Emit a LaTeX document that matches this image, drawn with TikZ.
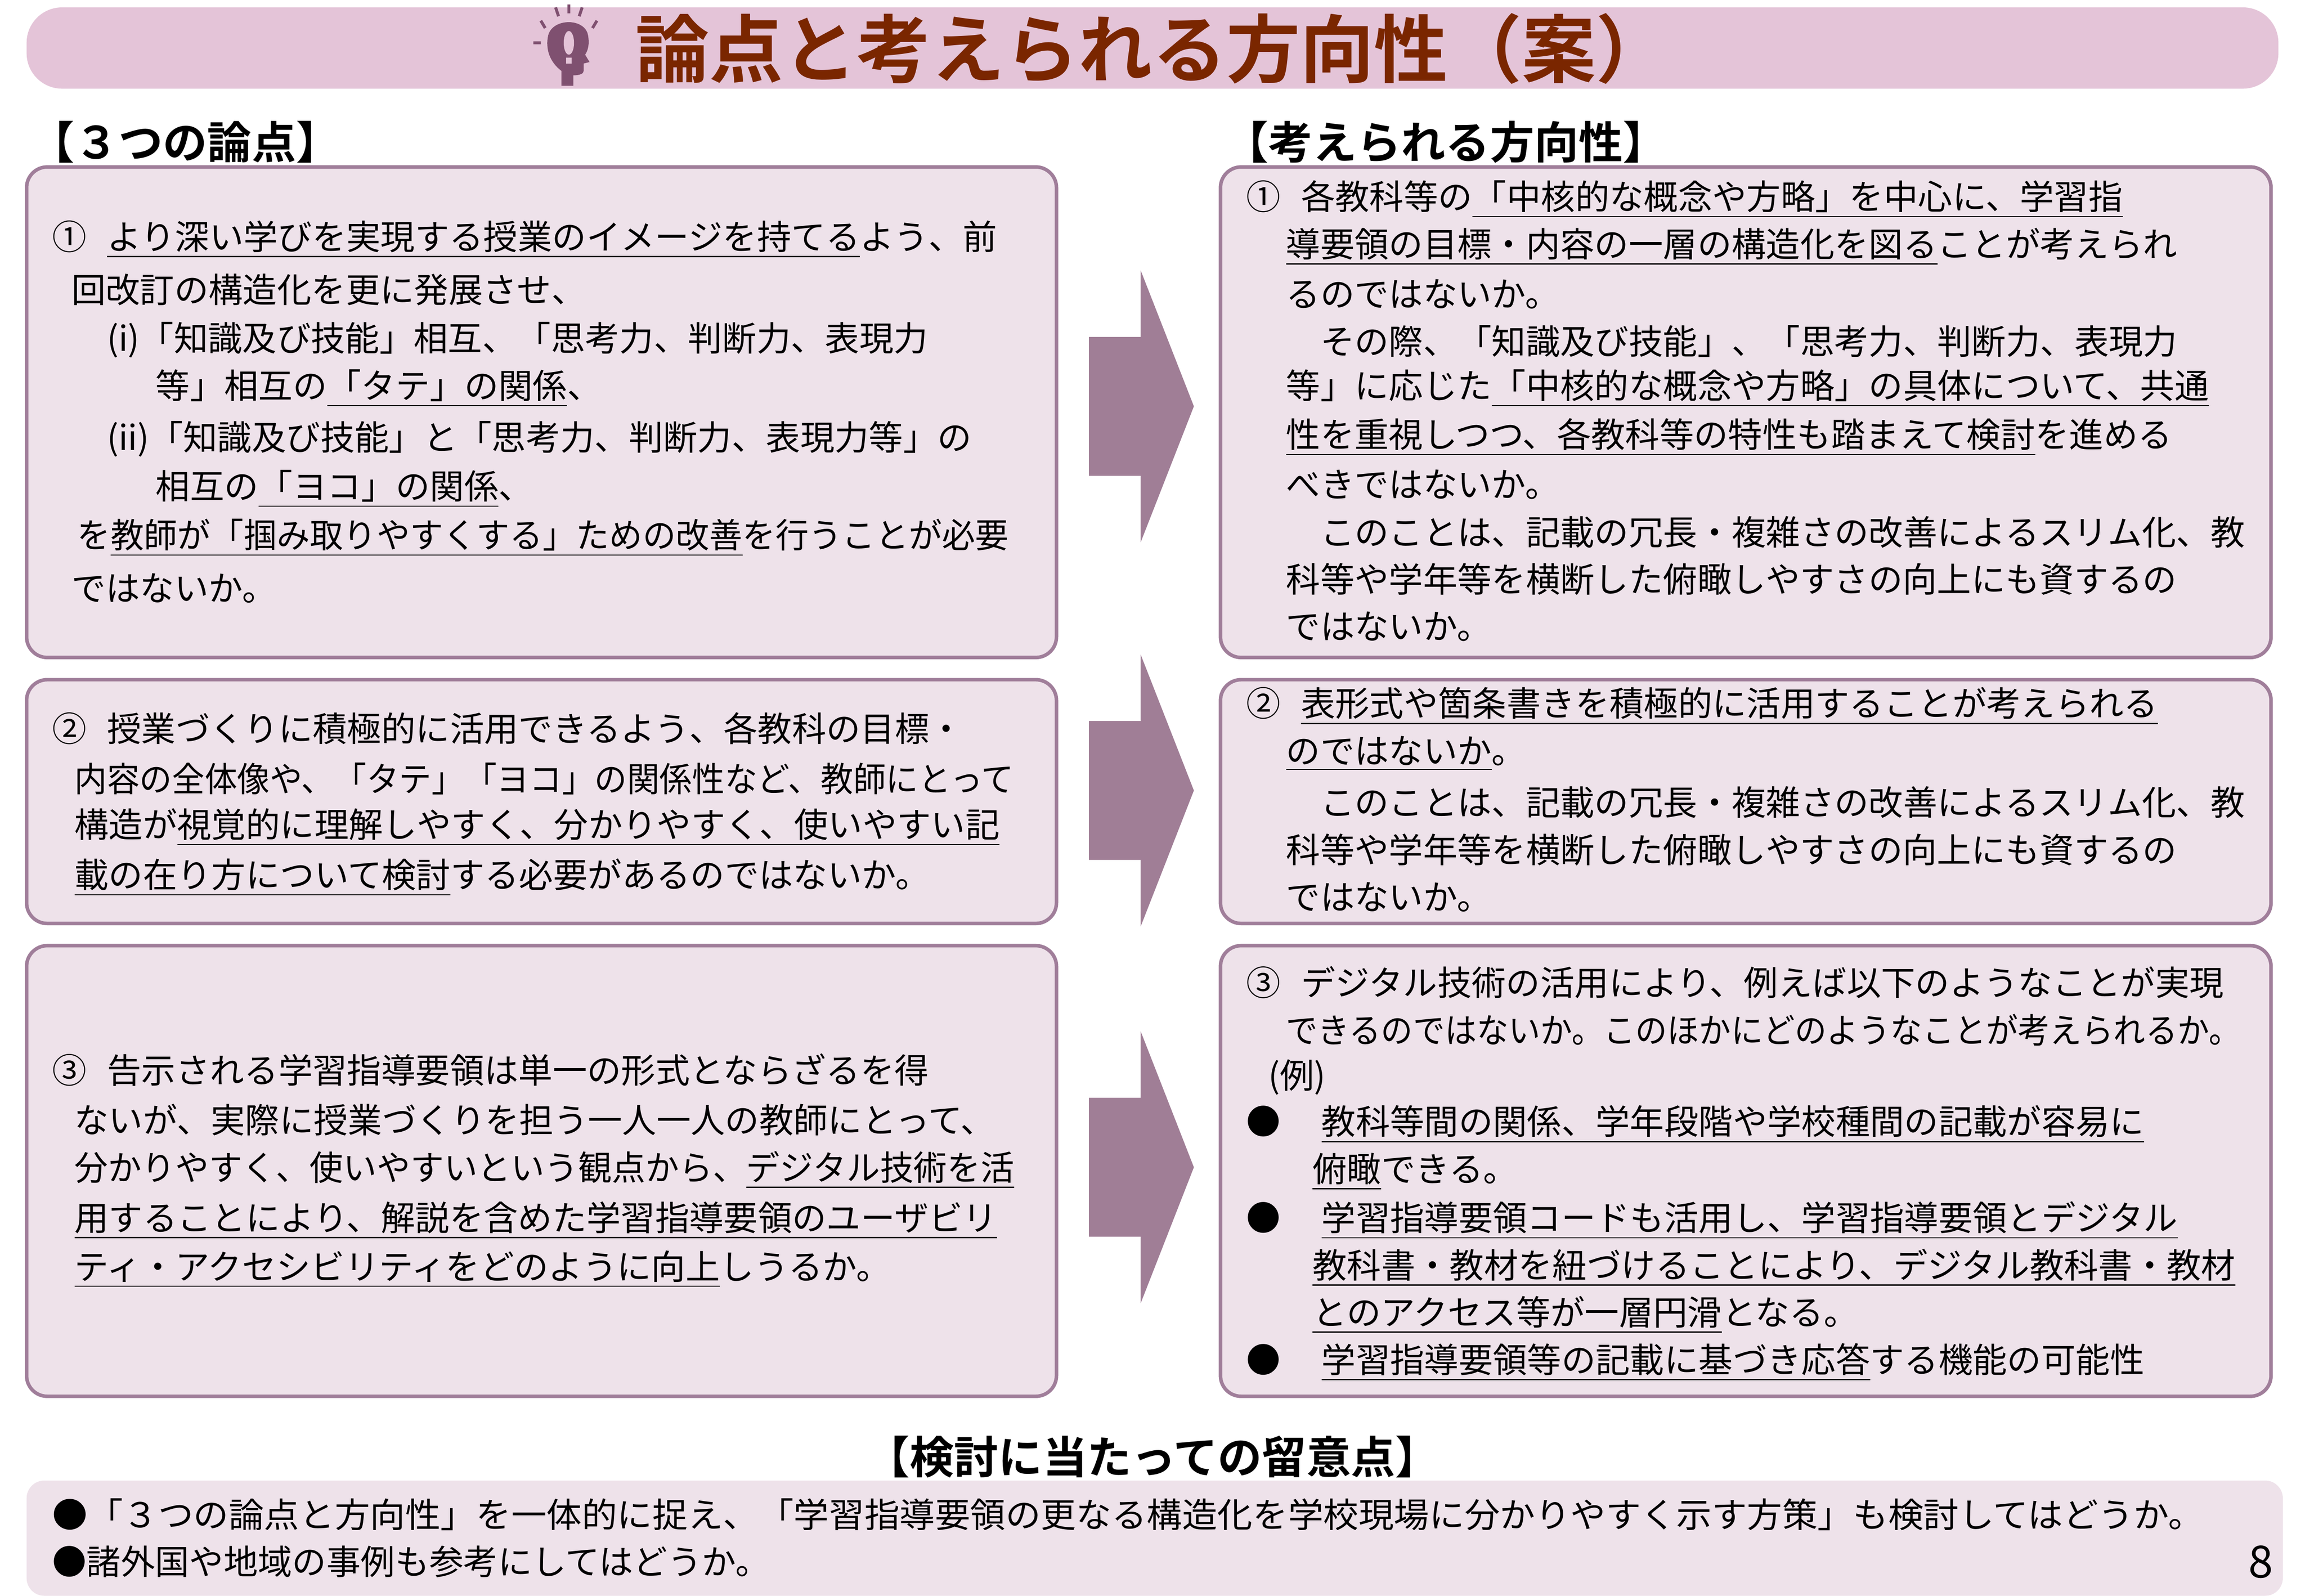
\documentclass[tikz,border=0pt]{standalone}
\usepackage{fontspec}
\setmainfont{Noto Sans CJK JP}
\newfontfamily\jpb{Noto Sans CJK JP Bold}
\definecolor{titlebg}{HTML}{E4C4D8}
\definecolor{titlefg}{HTML}{7A2600}
\definecolor{boxbg}{HTML}{EEE2EA}
\definecolor{boxline}{HTML}{A07E9A}
\definecolor{arrowc}{HTML}{A07E96}
\definecolor{iconc}{HTML}{7F5070}
\newcommand\tl[4]{\node[txt] (#1) at (#2,#3) {#4};}
\newcommand\tls[5]{\node[txt] (#1) at (#2,#3) {\scalebox{#4}[1]{#5}};}
\tikzset{
  txt/.style={anchor=west,inner sep=0pt,font=\fontsize{11.6pt}{14pt}\selectfont},
  pbox/.style={draw=boxline,line width=1.2pt,fill=boxbg,rounded corners=7pt},
  hd/.style={inner sep=0pt,font=\jpb\fontsize{15pt}{18pt}\selectfont},
}
\begin{document}
\begin{tikzpicture}[x=0.5pt,y=-0.5pt]
\useasboundingbox (0,0) rectangle (1560,1080);
% title
\fill[titlebg,rounded corners=12pt] (18,5) rectangle (1542,60);
\node[inner sep=0pt,text=titlefg,font=\jpb\fontsize{25pt}{30pt}\selectfont] (title) at (780,33) {論点と考えられる方向性（案）};
% icon: head with bulb
\fill[iconc] (380,58) -- (380,48) .. controls (372,42) and (369,33) .. (371,24) .. controls (374,12) and (396,12) .. (398,24) .. controls (399,30) and (398,34) .. (396,37) -- (399,42) -- (395,43) -- (395,48) .. controls (395,50) and (392,51) .. (388,51) -- (388,58) -- cycle;
\fill[titlebg] (385,29) ellipse (3.5 and 8);
\fill[titlebg] (383,39) rectangle (387,43);
\draw[iconc,line width=1pt] (385,3)--(385,9) (376,5)--(378,11) (394,5)--(392,11) (366,14)--(369,19) (404,14)--(401,19) (361,29)--(366,29);
% headings
\node[hd,anchor=west] (h1) at (20,96) {【３つの論点】};
\node[hd,anchor=west] (h2) at (828,96) {【考えられる方向性】};
\node[hd] (h3) at (780,986) {【検討に当たっての留意点】};
% boxes
\draw[pbox] (18,113) rectangle (715,445);
\draw[pbox] (18,460) rectangle (715,625);
\draw[pbox] (18,640) rectangle (715,945);
\draw[pbox] (826,113) rectangle (1537,445);
\draw[pbox] (826,460) rectangle (1537,625);
\draw[pbox] (826,640) rectangle (1537,945);
% arrows
\foreach \c in {275,535,790}{
  \fill[arrowc] (737,\c-47) -- (772,\c-47) -- (772,\c-92) -- (808,\c) -- (772,\c+92) -- (772,\c+47) -- (737,\c+47) -- cycle;
}
% left box 1
\tl{a1}{35}{162}{①\hspace{0.6em}\underline{より深い学びを実現する授業のイメージを持てる}よう、前}
\tl{a2}{48}{196}{回改訂の構造化を更に発展させ、}
\tl{a3}{72}{230}{(i)「知識及び技能」相互、「思考力、判断力、表現力}
\tl{a4}{105}{263}{等」相互の\underline{「タテ」の関係}、}
\tl{a5}{72}{297}{(ii)「知識及び技能」と「思考力、判断力、表現力等」の}
\tl{a6}{105}{331}{相互の\underline{「ヨコ」の関係}、}
\tls{a7}{52}{364}{0.97}{を\underline{教師が「掴み取りやすくする」ための改善}を行うことが必要}
\tl{a8}{48}{398}{ではないか。}
% left box 2
\tl{b1}{35}{493}{②\hspace{0.6em}授業づくりに積極的に活用できるよう、各教科の目標・}
\tls{b2}{50}{527}{0.95}{内容の全体像や、「タテ」「ヨコ」の関係性など、教師にとって}
\tl{b3}{50}{560}{構造が\underline{視覚的に理解しやすく、分かりやすく、使いやすい記}}
\tl{b4}{50}{594}{\underline{載の在り方について検討}する必要があるのではないか。}
% left box 3
\tl{c1}{35}{724}{③\hspace{0.6em}告示される学習指導要領は単一の形式とならざるを得}
\tl{c2}{50}{758}{ないが、実際に授業づくりを担う一人一人の教師にとって、}
\tls{c3}{50}{792}{0.98}{分かりやすく、使いやすいという観点から、\underline{デジタル技術を活}}
\tl{c4}{50}{826}{\underline{用することにより、解説を含めた学習指導要領のユーザビリ}}
\tl{c5}{50}{859}{\underline{ティ・アクセシビリティをどのように向上}しうるか。}
% right box 1
\tl{d1}{843}{135}{①\hspace{0.6em}各教科等の\underline{「中核的な概念や方略」を中心に、学習指}}
\tl{d2}{870}{167}{\underline{導要領の目標・内容の一層の構造化を図る}ことが考えられ}
\tl{d3}{870}{199}{るのではないか。}
\tl{d4}{870}{231}{\hspace{1em}その際、「知識及び技能」、「思考力、判断力、表現力}
\tl{d5}{870}{263}{等」に応じた\underline{「中核的な概念や方略」の具体について、共通}}
\tl{d6}{870}{296}{\underline{性を重視しつつ、各教科等の特性も踏まえて検討}を進める}
\tl{d7}{870}{328}{べきではないか。}
\tl{d8}{870}{360}{\hspace{1em}このことは、記載の冗長・複雑さの改善によるスリム化、教}
\tl{d9}{870}{392}{科等や学年等を横断した俯瞰しやすさの向上にも資するの}
\tl{d10}{870}{424}{ではないか。}
% right box 2
\tl{e1}{843}{478}{②\hspace{0.6em}\underline{表形式や箇条書きを積極的に活用することが考えられる}}
\tl{e2}{870}{510}{\underline{のではないか}。}
\tl{e3}{870}{543}{\hspace{1em}このことは、記載の冗長・複雑さの改善によるスリム化、教}
\tl{e4}{870}{575}{科等や学年等を横断した俯瞰しやすさの向上にも資するの}
\tl{e5}{870}{607}{ではないか。}
% right box 3
\tl{f1}{843}{665}{③\hspace{0.6em}デジタル技術の活用により、例えば以下のようなことが実現}
\tls{f2}{870}{697}{0.93}{できるのではないか。このほかにどのようなことが考えられるか。}
\tl{f3}{858}{729}{(例)}
\tl{f4}{843}{761}{●\hspace{1.2em}\underline{教科等間の関係、学年段階や学校種間の記載が容易に}}
\tl{f5}{888}{793}{\underline{俯瞰}できる。}
\tl{f6}{843}{826}{●\hspace{1.2em}\underline{学習指導要領コードも活用し、学習指導要領とデジタル}}
\tl{f7}{888}{858}{\underline{教科書・教材を紐づけることにより、デジタル教科書・教材}}
\tl{f8}{888}{890}{\underline{とのアクセス等が一層円滑}となる。}
\tl{f9}{843}{922}{●\hspace{1.2em}\underline{学習指導要領等の記載に基づき応答}する機能の可能性}
% bottom
\fill[boxbg,rounded corners=6pt] (18,1002) rectangle (1545,1080);
\tls{g1}{35}{1025}{1.03}{●「３つの論点と方向性」を一体的に捉え、「学習指導要領の更なる構造化を学校現場に分かりやすく示す方策」も検討してはどうか。}
\tl{g2}{35}{1057}{●諸外国や地域の事例も参考にしてはどうか。}
\node[inner sep=0pt,font=\fontsize{15pt}{18pt}\selectfont] (pg) at (1530,1057) {8};
\end{tikzpicture}
\end{document}
